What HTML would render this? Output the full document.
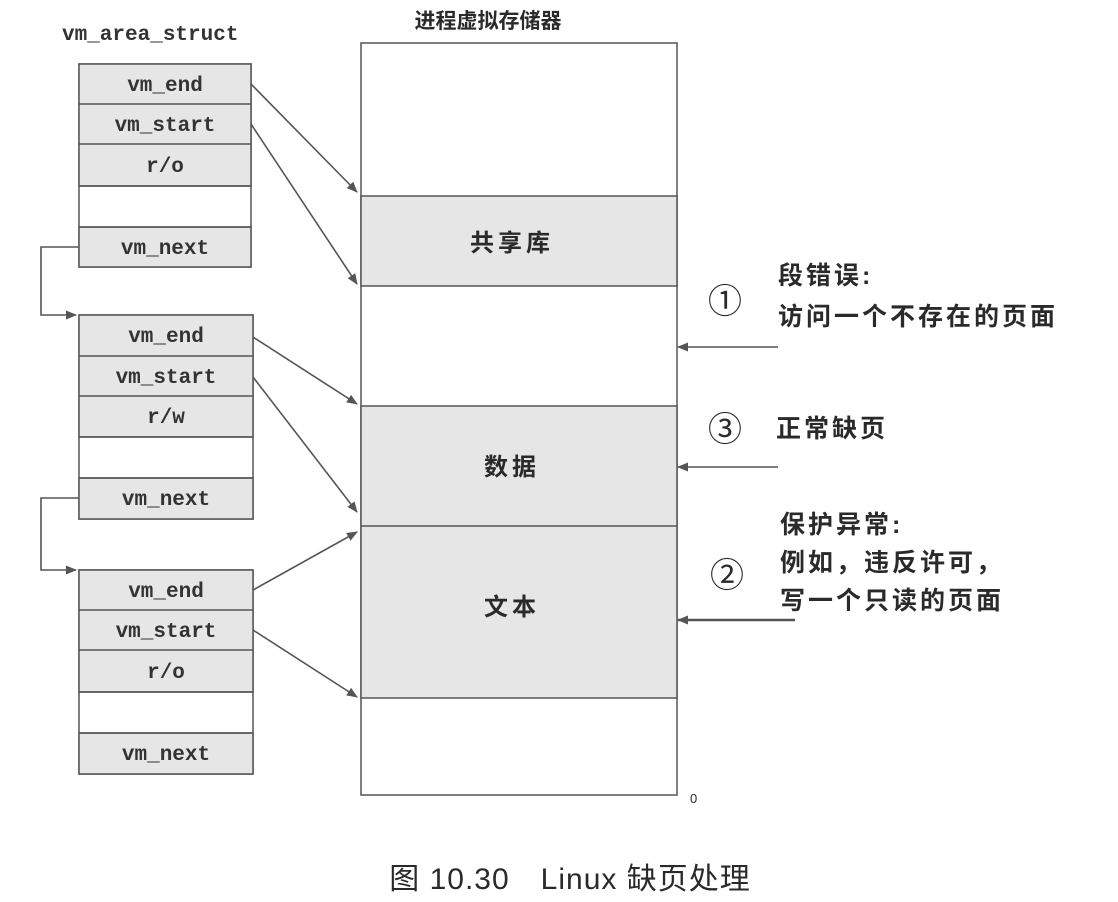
<!DOCTYPE html>
<html><head><meta charset="utf-8"><style>
html,body{margin:0;padding:0;background:#fff;}
svg{display:block;}
.m{font-family:"Liberation Mono",monospace;font-size:21px;fill:#333;}
.c{font-family:"Liberation Sans","Noto Sans CJK SC",sans-serif;fill:#2a2a2a;}
</style></head><body>
<svg width="1118" height="902" viewBox="0 0 1118 902" xmlns="http://www.w3.org/2000/svg">
<defs><marker id="a" markerWidth="11" markerHeight="9" refX="10" refY="4.5" orient="auto" markerUnits="userSpaceOnUse"><path d="M0,0 L11,4.5 L0,9 z" fill="#555"/></marker></defs>
<text x="62" y="40" class="m" font-size="20" font-weight="bold">vm_area_struct</text>
<text x="488" y="28" class="c" font-size="21" font-weight="bold" text-anchor="middle">进程虚拟存储器</text>
<g stroke="#555" stroke-width="1.5">
<rect x="79" y="64" width="172" height="203" fill="#fff"/>
<rect x="79" y="64" width="172" height="122" fill="#e6e6e6"/>
<rect x="79" y="227" width="172" height="40" fill="#e6e6e6"/>
<line x1="79" y1="104" x2="251" y2="104"/><line x1="79" y1="144" x2="251" y2="144"/><line x1="79" y1="186" x2="251" y2="186"/><line x1="79" y1="227" x2="251" y2="227"/>
<rect x="79" y="315" width="174" height="204" fill="#fff"/>
<rect x="79" y="315" width="174" height="122" fill="#e6e6e6"/>
<rect x="79" y="478" width="174" height="41" fill="#e6e6e6"/>
<line x1="79" y1="356" x2="253" y2="356"/><line x1="79" y1="396" x2="253" y2="396"/><line x1="79" y1="437" x2="253" y2="437"/><line x1="79" y1="478" x2="253" y2="478"/>
<rect x="79" y="570" width="174" height="204" fill="#fff"/>
<rect x="79" y="570" width="174" height="122" fill="#e6e6e6"/>
<rect x="79" y="733" width="174" height="41" fill="#e6e6e6"/>
<line x1="79" y1="610" x2="253" y2="610"/><line x1="79" y1="650" x2="253" y2="650"/><line x1="79" y1="692" x2="253" y2="692"/><line x1="79" y1="733" x2="253" y2="733"/>
<rect x="361" y="43" width="316" height="752" fill="#fff"/>
<rect x="361" y="196" width="316" height="90" fill="#e6e6e6"/>
<rect x="361" y="406" width="316" height="292" fill="#e6e6e6"/>
<line x1="361" y1="526" x2="677" y2="526"/>
</g>
<g fill="none" stroke="#555" stroke-width="1.6" marker-end="url(#a)">
<line x1="251" y1="84" x2="357" y2="192"/>
<line x1="251" y1="124" x2="357" y2="284"/>
<line x1="253" y1="337" x2="357" y2="404"/>
<line x1="253" y1="377" x2="357" y2="512"/>
<line x1="253" y1="590" x2="357" y2="532"/>
<line x1="253" y1="630" x2="357" y2="697"/>
<polyline points="79,247 41,247 41,315 76,315"/>
<polyline points="79,498 41,498 41,570 76,570"/>
<line x1="778" y1="347" x2="678" y2="347"/>
<line x1="778" y1="467" x2="678" y2="467"/>
<line x1="795" y1="620" x2="678" y2="620" stroke-width="2.5"/>
</g>
<g class="m" text-anchor="middle" font-weight="bold">
<text x="165" y="91">vm_end</text><text x="165" y="131">vm_start</text><text x="165" y="172">r/o</text><text x="165" y="254">vm_next</text>
<text x="166" y="342">vm_end</text><text x="166" y="383">vm_start</text><text x="166" y="423">r/w</text><text x="166" y="505">vm_next</text>
<text x="166" y="597">vm_end</text><text x="166" y="637">vm_start</text><text x="166" y="678">r/o</text><text x="166" y="760">vm_next</text>
</g>
<g class="c" font-size="24" font-weight="bold">
<text x="470" y="251" letter-spacing="4">共享库</text><text x="484" y="475" letter-spacing="4">数据</text><text x="484" y="615" letter-spacing="4">文本</text>
</g>
<g class="c" font-size="25" font-weight="bold" letter-spacing="3">
<text x="778" y="284">段错误:</text>
<text x="778" y="325">访问一个不存在的页面</text>
<text x="776" y="437">正常缺页</text>
<text x="780" y="533">保护异常:</text>
<text x="780" y="571">例如，违反许可，</text>
<text x="780" y="609">写一个只读的页面</text>
</g>
<g class="c" font-size="34" text-anchor="middle">
<text x="725" y="313">①</text>
<text x="725" y="441">③</text>
<text x="727" y="587">②</text>
</g>
<g class="c">
<text x="690" y="803" font-size="13">0</text>
<text x="570" y="889" font-size="30" text-anchor="middle" letter-spacing="1">图 10.30　Linux 缺页处理</text>
</g>
</svg>
</body></html>
